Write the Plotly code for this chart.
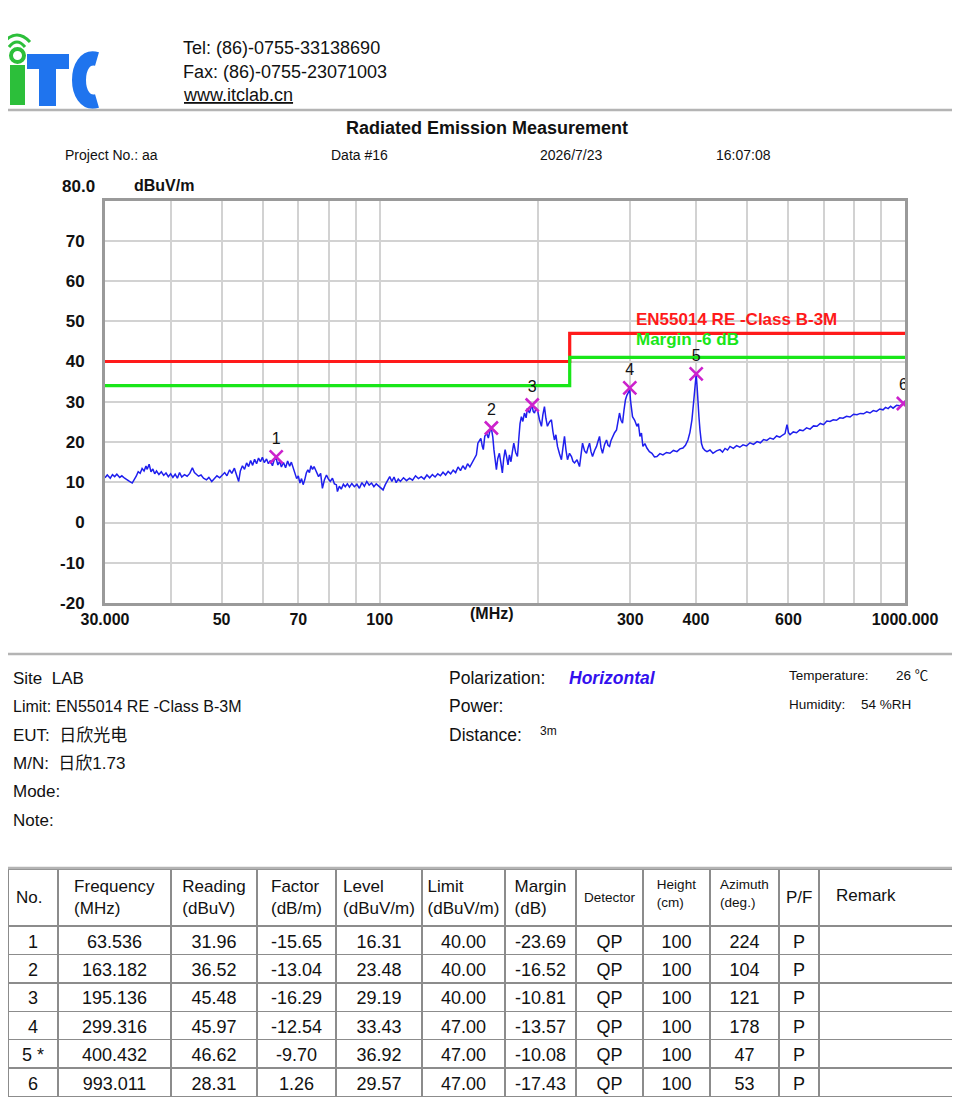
import math
import plotly.graph_objects as go

# the page body keeps its default 8 px margin, so the figure starts 8 px in
PAGE_W, PAGE_H, OFF = 960, 1100, 8
W, H = PAGE_W - OFF, PAGE_H - OFF
FONT = "Liberation Sans, Arial, Noto Sans CJK SC, sans-serif"


def px(x):
    return (x - OFF) / W


def py(y):
    return 1 - (y - OFF) / H


# scan trace: (MHz, dBuV/m)
scan = [
    (30.0, 11.1), (30.3, 11.8), (30.7, 11.0), (31.0, 11.9), (31.3, 11.4), (31.6, 12.0), (32.0, 11.2), (32.3, 11.6), (32.7, 11.0), (33.0, 10.6),
    (33.4, 10.2), (33.8, 9.8), (34.1, 10.6), (34.4, 11.5), (34.7, 12.6), (35.0, 12.2), (35.3, 13.4), (35.6, 12.8), (35.9, 14.0), (36.1, 13.2),
    (36.4, 14.5), (36.7, 12.6), (37.0, 13.3), (37.3, 12.1), (37.6, 12.8), (38.0, 11.9), (38.4, 12.6), (38.8, 11.7), (39.2, 12.3), (39.6, 11.4),
    (40.0, 12.1), (40.4, 11.2), (40.8, 12.0), (41.2, 11.0), (41.6, 12.4), (42.0, 11.3), (42.5, 11.9), (43.0, 11.5), (43.5, 12.2), (44.0, 13.6),
    (44.4, 12.4), (44.8, 12.0), (45.2, 11.5), (45.7, 11.8), (46.2, 11.0), (46.8, 10.6), (47.3, 11.2), (47.9, 10.2), (48.4, 10.9), (49.0, 11.6),
    (49.6, 11.1), (50.2, 11.8), (50.7, 12.4), (51.2, 11.6), (51.8, 13.1), (52.3, 12.2), (52.9, 13.5), (53.4, 11.8), (53.9, 10.2), (54.3, 12.8),
    (54.8, 14.1), (55.3, 13.2), (55.8, 14.8), (56.3, 13.9), (56.8, 15.4), (57.3, 14.2), (57.8, 15.7), (58.3, 14.6), (58.8, 16.0), (59.3, 15.1),
    (59.8, 16.2), (60.3, 14.9), (60.9, 15.8), (61.4, 14.6), (61.9, 15.4), (62.5, 14.1), (63.0, 15.6), (63.5, 16.0), (64.0, 14.3), (64.5, 15.2),
    (65.0, 13.8), (65.6, 14.9), (66.2, 13.6), (66.8, 15.3), (67.4, 14.0), (67.9, 15.0), (68.5, 13.2), (69.0, 12.1), (69.5, 10.9), (70.0, 11.6),
    (70.5, 9.8), (71.0, 10.9), (71.5, 9.4), (72.0, 10.6), (72.5, 12.3), (73.0, 13.1), (73.5, 12.4), (74.0, 14.1), (74.5, 13.2), (75.0, 13.9),
    (75.8, 12.4), (76.5, 11.4), (77.2, 12.2), (77.8, 8.5), (78.5, 10.6), (79.2, 11.8), (79.8, 10.9), (80.5, 10.2), (81.3, 11.0), (82.0, 9.6),
    (82.7, 9.4), (83.1, 7.7), (83.8, 9.0), (84.5, 8.3), (85.3, 9.5), (86.0, 8.9), (86.8, 9.6), (87.6, 8.8), (88.5, 9.7), (89.5, 8.9),
    (90.5, 9.5), (91.5, 8.5), (92.5, 9.9), (93.5, 9.0), (94.5, 10.2), (95.5, 9.3), (96.5, 9.8), (97.5, 8.9), (98.5, 9.6), (99.5, 9.1),
    (100.5, 8.5), (101.5, 8.1), (102.5, 9.4), (103.5, 10.6), (104.5, 11.4), (105.5, 10.2), (106.5, 11.3), (107.5, 9.9), (108.5, 10.8), (109.5, 10.2),
    (111.0, 11.1), (112.5, 10.4), (114.0, 11.0), (115.5, 10.5), (117.0, 11.6), (118.5, 10.9), (120.0, 11.4), (121.5, 10.8), (123.0, 11.8), (124.5, 11.1),
    (126.0, 11.9), (127.5, 11.3), (129.0, 12.1), (130.5, 11.6), (132.0, 12.5), (133.5, 11.8), (135.0, 12.7), (136.5, 12.1), (138.0, 13.0), (139.5, 12.4),
    (141.0, 13.8), (142.5, 12.9), (144.0, 14.1), (145.5, 13.2), (147.0, 14.6), (148.5, 13.8), (150.0, 14.9), (151.5, 16.0), (152.8, 16.8), (153.8, 19.7),
    (154.8, 20.5), (155.8, 20.9), (156.8, 18.9), (157.5, 18.1), (158.5, 21.4), (159.8, 22.2), (161.0, 21.0), (162.0, 22.6), (163.2, 23.3), (164.2, 21.2),
    (165.0, 18.1), (166.0, 15.6), (166.8, 13.1), (167.8, 15.9), (169.0, 17.2), (170.2, 14.6), (171.2, 12.3), (172.2, 15.8), (173.3, 18.1), (174.5, 16.2),
    (175.5, 14.3), (176.6, 16.8), (177.8, 15.1), (178.9, 17.6), (180.0, 19.7), (181.5, 17.4), (182.9, 16.4), (184.0, 20.8), (185.0, 24.6), (186.1, 26.3),
    (187.3, 25.1), (188.6, 27.2), (190.0, 26.0), (191.1, 28.4), (192.8, 27.2), (194.5, 28.8), (195.1, 29.0), (196.0, 27.6), (197.1, 27.2), (198.4, 28.4),
    (199.7, 28.0), (201.4, 25.6), (203.2, 23.9), (204.5, 26.8), (205.9, 28.8), (207.2, 25.9), (208.6, 23.9), (210.5, 25.0), (212.3, 25.5), (213.7, 22.6),
    (215.1, 20.5), (216.5, 21.8), (218.0, 18.9), (220.0, 17.0), (221.8, 15.6), (223.3, 18.6), (224.8, 21.4), (226.3, 18.0), (227.8, 15.6), (229.8, 17.2),
    (231.8, 16.4), (233.3, 15.2), (234.9, 14.8), (237.5, 15.6), (240.1, 13.9), (241.7, 16.8), (243.3, 19.7), (245.5, 17.8), (247.6, 17.2), (249.2, 18.6),
    (250.9, 19.7), (252.5, 17.6), (254.2, 16.4), (256.5, 17.9), (258.7, 18.9), (260.4, 20.2), (262.1, 21.4), (263.8, 18.6), (265.6, 17.2), (268.0, 19.4),
    (270.3, 20.5), (272.1, 19.2), (273.9, 18.9), (275.7, 20.4), (277.5, 21.4), (280.0, 22.3), (282.4, 23.0), (284.2, 25.1), (286.1, 27.2), (288.0, 25.4),
    (289.9, 24.7), (291.8, 27.9), (293.7, 30.5), (295.5, 31.6), (297.5, 32.4), (299.3, 33.0), (300.3, 30.2), (301.6, 28.8), (302.9, 26.3), (305.8, 25.4),
    (308.8, 23.9), (310.8, 24.6), (312.9, 21.4), (315.0, 22.2), (317.0, 18.9), (319.8, 19.6), (322.6, 18.5), (326.2, 17.6), (329.8, 17.2), (333.5, 16.3),
    (337.1, 16.4), (341.6, 17.1), (346.1, 16.8), (351.5, 17.4), (356.9, 17.2), (362.4, 17.9), (368.0, 17.6), (372.9, 18.3), (377.8, 18.5), (382.0, 19.2),
    (386.2, 20.5), (389.6, 22.4), (393.0, 25.5), (396.5, 30.8), (400.4, 36.9), (402.0, 33.8), (403.5, 31.3), (405.3, 26.2), (407.1, 23.0), (409.8, 19.6),
    (412.5, 18.5), (416.1, 17.9), (419.8, 17.6), (425.4, 18.0), (431.0, 17.2), (437.7, 17.8), (444.4, 18.1), (449.4, 17.5), (454.4, 18.4), (459.4, 18.0),
    (464.4, 18.9), (471.2, 18.4), (478.0, 19.1), (484.8, 18.7), (491.6, 19.3), (499.2, 19.0), (506.9, 19.8), (514.8, 19.4), (522.8, 20.1), (530.5, 19.8),
    (538.0, 20.6), (545.7, 20.4), (553.4, 21.0), (561.5, 20.7), (569.6, 21.5), (577.7, 21.2), (585.9, 21.8), (591.0, 22.1), (596.2, 24.3), (600.2, 22.3),
    (604.1, 21.8), (612.8, 22.5), (621.6, 22.3), (630.5, 23.0), (639.5, 22.8), (649.5, 23.5), (659.6, 23.2), (669.7, 24.0), (679.9, 23.9), (689.8, 24.6),
    (699.8, 24.3), (709.8, 25.2), (719.8, 25.1), (730.2, 25.5), (740.6, 25.4), (751.3, 26.0), (762.0, 25.9), (773.9, 26.4), (786.0, 26.2), (798.1, 26.9),
    (810.2, 26.8), (822.0, 27.1), (833.8, 27.0), (845.7, 27.5), (857.7, 27.2), (870.2, 27.8), (882.7, 27.6), (895.4, 28.2), (908.1, 28.0), (918.3, 28.6),
    (928.6, 28.3), (938.8, 28.9), (949.0, 28.4), (963.6, 29.1), (978.3, 29.0), (993.0, 29.6), (1000.0, 30.2),
]
scan_freq = [f for f, _ in scan]
scan_level = [v for _, v in scan]

# EN55014 limit (step at 230 MHz) and the -6 dB margin line
limit_freq = [30, 230, 1000]
limit_level = [40, 47, 47]
MARGIN_DB = -6
margin_level = [v + MARGIN_DB for v in limit_level]

# final measurement table
peak_no = ["1", "2", "3", "4", "5", "6"]
peak_freq = [63.536, 163.182, 195.136, 299.316, 400.432, 993.011]
peak_reading = [31.96, 36.52, 45.48, 45.97, 46.62, 28.31]
peak_factor = [-15.65, -13.04, -16.29, -12.54, -9.70, 1.26]
peak_level = [16.31, 23.48, 29.19, 33.43, 36.92, 29.57]
peak_limit = [40.00, 40.00, 40.00, 47.00, 47.00, 47.00]
peak_margin = [-23.69, -16.52, -10.81, -13.57, -10.08, -17.43]
peak_height = [100, 100, 100, 100, 100, 100]
peak_azimuth = [224, 104, 121, 178, 47, 53]
worst_row = 4  # marked with *

x_ticks = [30, 40, 50, 60, 70, 80, 90, 100, 200, 300, 400, 500, 600, 700, 800, 900, 1000]
x_labels = ["30.000", "", "50", "", "70", "", "", "100", "", "300", "400", "", "600", "", "", "", "1000.000"]
y_ticks = [-20, -10, 0, 10, 20, 30, 40, 50, 60, 70]

fig = go.Figure()
fig.add_trace(go.Scatter(x=scan_freq, y=scan_level, mode="lines",
                         line=dict(color="#1f1fee", width=1.5), hoverinfo="skip"))
fig.add_trace(go.Scatter(x=limit_freq, y=limit_level, mode="lines",
                         line=dict(color="#ff1a1a", width=3.2, shape="hv")))
fig.add_trace(go.Scatter(x=limit_freq, y=margin_level, mode="lines",
                         line=dict(color="#19e619", width=3.2, shape="hv")))
fig.add_trace(go.Scatter(x=peak_freq, y=peak_level, mode="markers+text", text=peak_no,
                         textposition="top center",
                         textfont=dict(family=FONT, size=16, color="#111"),
                         marker=dict(symbol="x-thin", size=13, line=dict(color="#cc22cc", width=2.6))))

# table (first column loses the 8 px hidden by the page margin)
col_w = [58, 113, 86, 79, 86, 83, 71, 67, 67, 69, 40, 141]
no_col = [n + (" *" if i == worst_row else "") for i, n in enumerate(peak_no)]
cols = [
    no_col,
    [f"{v:.3f}" for v in peak_freq],
    [f"{v:.2f}" for v in peak_reading],
    [f"{v:.2f}" for v in peak_factor],
    [f"{v:.2f}" for v in peak_level],
    [f"{v:.2f}" for v in peak_limit],
    [f"{v:.2f}" for v in peak_margin],
    ["QP"] * 6,
    [str(v) for v in peak_height],
    [str(v) for v in peak_azimuth],
    ["P"] * 6,
    [""] * 6,
]
# two-line headers go in the table, single-line ones are centred separately
headers = ["", "Frequency<br>(MHz)", "Reading<br>(dBuV)", "Factor<br>(dB/m)", "Level<br>(dBuV/m)",
           "Limit<br>(dBuV/m)", "Margin<br>(dB)", "", "Height<br>(cm)", "Azimuth<br>(deg.)", "", ""]
single_headers = {0: ("No.", 17), 7: ("Detector", 13.5), 10: ("P/F", 17)}
head_sizes = [17, 17, 17, 17, 17, 17, 17, 13.5, 13.5, 13.5, 17, 17]
table_w = [col_w[0] - OFF] + col_w[1:]
fig.add_trace(go.Table(
    domain=dict(x=[0, 1], y=[0, py(869)]),
    columnwidth=table_w,
    header=dict(values=headers, height=56, align="center",
                font=dict(family=FONT, size=head_sizes, color="#111"),
                line=dict(color="#8c8c8c", width=1.5), fill=dict(color="white")),
    cells=dict(values=cols, height=28.4, align="center",
               font=dict(family=FONT, size=18, color="#111"),
               line=dict(color="#8c8c8c", width=1.5), fill=dict(color="white")),
))

PAD = 3  # annotation text padding


def note(text, x, y, size=16, color="#111", xanchor="left", weight="normal"):
    if xanchor == "left":
        x -= PAD
    return dict(text=text, x=px(x), y=py(y), xref="paper", yref="paper", xanchor=xanchor,
                yanchor="middle", showarrow=False,
                font=dict(family=FONT, size=size, color=color, weight=weight))


annotations = [
    note("Tel: (86)-0755-33138690", 184, 48, 18),
    note("Fax: (86)-0755-23071003", 184, 72, 18),
    note("<u>www.itclab.cn</u>", 184, 95, 18),
    note("Radiated Emission Measurement", 487, 128, 18, xanchor="center", weight="bold"),
    note("Project No.: aa", 66, 155, 14),
    note("Data #16", 332, 155, 14),
    note("2026/7/23", 541, 155, 14),
    note("16:07:08", 717, 155, 14),
    note("80.0", 63, 187, 17, weight="bold"),
    note("dBuV/m", 135, 186, 16, weight="bold"),
    note("(MHz)", 492, 613, 16, xanchor="center", weight="bold"),
    # info block
    note("Site\u00a0\u00a0LAB", 14, 678, 17),
    note("Limit: EN55014 RE -Class B-3M", 14, 706, 16),
    note("EUT:\u00a0 日欣光电", 14, 735, 17),
    note("M/N:\u00a0 日欣1.73", 14, 763, 17),
    note("Mode:", 14, 791, 17),
    note("Note:", 14, 820, 17),
    note("Polarization:", 450, 678, 17.5),
    note("<i>Horizontal</i>", 570, 678, 17.5, color="#3311ee", weight="bold"),
    note("Power:", 450, 706, 17.5),
    note("Distance:", 450, 735, 17.5),
    note("3m", 541, 731, 12),
    note("Temperature:", 790, 675, 13.5),
    note("26 ℃", 897, 675, 13.5),
    note("Humidity:", 790, 704, 13.5),
    note("54 %RH", 862, 704, 13.5),
]
# single-line table headings, centred in their header cell
col_left = [sum(col_w[:i]) for i in range(len(col_w))]
for i, (label, size) in single_headers.items():
    annotations.append(note(label, col_left[i] + col_w[i] / 2, 897, size, xanchor="center"))
annotations.append(note("Remark", col_left[11] + 18, 895, 17))

# limit line captions, placed in data coordinates
annotations.append(dict(text="EN55014 RE -Class B-3M", x=math.log10(305), y=50.4, xref="x", yref="y",
                        xanchor="left", yanchor="middle", showarrow=False,
                        font=dict(family=FONT, size=17, color="#ff1a1a", weight="bold")))
annotations.append(dict(text="Margin -6 dB", x=math.log10(305), y=45.4, xref="x", yref="y",
                        xanchor="left", yanchor="middle", showarrow=False,
                        font=dict(family=FONT, size=17, color="#19e619", weight="bold")))

GREEN = "#2cbf3a"
BLUE = "#1f74ee"


def rect(x0, y0, x1, y1, color):
    return dict(type="rect", xref="paper", yref="paper", x0=px(x0), x1=px(x1), y0=py(y0), y1=py(y1),
                fillcolor=color, line=dict(width=0), layer="above")


def path(points, cmd, color, width):
    s = cmd.format(*[f"{px(a):.5f} {py(b):.5f}" for a, b in points])
    return dict(type="path", xref="paper", yref="paper", path=s, line=dict(color=color, width=width))


def hline(y, x0=0, x1=960, color="#b4b4b4", width=2.5):
    return dict(type="line", xref="paper", yref="paper", x0=px(x0), x1=px(x1), y0=py(y), y1=py(y),
                line=dict(color=color, width=width))


shapes = [
    # logo: green i with signal arcs, blue T and a cropped C
    rect(10, 65, 25, 105, GREEN),
    dict(type="circle", xref="paper", yref="paper", x0=px(11), x1=px(24), y0=py(49), y1=py(62),
         line=dict(color=GREEN, width=4), fillcolor="white"),
    path([(4, 42), (17, 28), (30, 42)], "M {0} Q {1} {2}", GREEN, 3),
    path([(9, 47), (17, 37), (25, 47)], "M {0} Q {1} {2}", GREEN, 3),
    rect(27, 54, 69, 69, BLUE),
    rect(39, 54, 56, 106, BLUE),
    path([(97, 59), (73, 52), (73, 108), (97, 101)], "M {0} C {1} {2} {3}", BLUE, 14),
    # page frames
    hline(110),
    hline(654),
    hline(868),
]

fig.update_layout(
    width=W, height=H, margin=dict(l=0, r=0, t=0, b=0, autoexpand=False),
    paper_bgcolor="white", plot_bgcolor="white", showlegend=False,
    annotations=annotations, shapes=shapes,
    xaxis=dict(type="log", range=[math.log10(30), math.log10(1000)], domain=[px(105), px(905)],
               tickvals=x_ticks, ticktext=x_labels, ticks="",
               tickfont=dict(family=FONT, size=16, color="#111", weight="bold"),
               showgrid=True, gridcolor="#d2d2d2", gridwidth=2, zeroline=False,
               showline=True, mirror=True, linecolor="#9a9a9a", linewidth=3),
    yaxis=dict(range=[-20, 80], domain=[py(603), py(200.5)], tickvals=y_ticks,
               ticktext=[str(v) for v in y_ticks], ticks="",
               tickfont=dict(family=FONT, size=17, color="#111", weight="bold"),
               ticklabelstandoff=14,
               showgrid=True, gridcolor="#d2d2d2", gridwidth=2, zeroline=False,
               showline=True, mirror=True, linecolor="#9a9a9a", linewidth=3),
)

fig.write_html("out.html")
